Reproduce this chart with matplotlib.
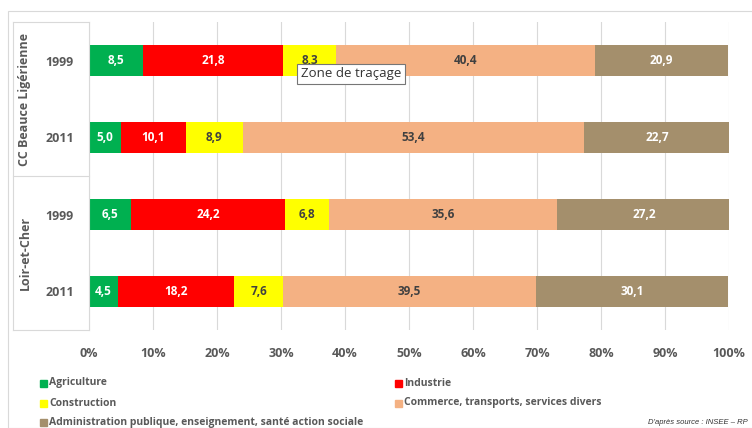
import matplotlib.pyplot as plt
from matplotlib.patches import Rectangle
from matplotlib.lines import Line2D

plt.rcParams['font.family'] = ['Open Sans', 'DejaVu Sans']

# data
rows = ["1999", "2011", "1999", "2011"]
groups = ["CC Beauce Ligérienne", "Loir-et-Cher"]
sectors = ["Agriculture", "Industrie", "Construction",
           "Commerce, transports, services divers",
           "Administration publique, enseignement, santé action sociale"]
agriculture = [8.5, 5.0, 6.5, 4.5]
industrie = [21.8, 10.1, 24.2, 18.2]
construction = [8.3, 8.9, 6.8, 7.6]
commerce = [40.4, 53.4, 35.6, 39.5]
administration = [20.9, 22.7, 27.2, 30.1]
series = [agriculture, industrie, construction, commerce, administration]

colors = ["#00B050", "#FF0000", "#FFFF00", "#F4B183", "#A48F6C"]
label_colors = ["white", "white", "#404040", "#404040", "white"]
grey = "#595959"
line_grey = "#D9D9D9"

W, H = 752, 428
fig = plt.figure(figsize=(W / 100, H / 100), dpi=100)
ax = fig.add_axes([89 / W, 1 - 330 / H, 640 / W, 308 / H])

ypos = list(range(len(rows)))
left = [0.0] * len(rows)
for vals, c, lc in zip(series, colors, label_colors):
    ax.barh(ypos, vals, left=left, height=0.39, color=c, zorder=2)
    for y, v, l in zip(ypos, vals, left):
        ax.text(l + v / 2, y, f"{v:.1f}".replace(".", ","), ha="center", va="center",
                color=lc, fontsize=8.5, fontweight="bold", zorder=3)
    left = [a + b for a, b in zip(left, vals)]

ax.set_xlim(0, 100)
ax.set_ylim(3.5, -0.5)
ax.set_xticks(range(0, 101, 10))
ax.set_xticklabels([f"{t}%" for t in range(0, 101, 10)])
ax.set_yticks(ypos)
ax.set_yticklabels(rows)
ax.tick_params(axis="x", length=0, pad=12, labelsize=9, labelcolor=grey)
ax.tick_params(axis="y", length=0, pad=11, labelsize=9, labelcolor=grey)
for lab in ax.get_xticklabels() + ax.get_yticklabels():
    lab.set_fontweight("bold")
ax.grid(axis="x", color=line_grey, lw=0.8, zorder=0)
for s in ["top", "right", "bottom"]:
    ax.spines[s].set_visible(False)
ax.spines["left"].set_color(line_grey)

# group labels and separators in the category area
for yy in [1.0, 0.5, 0.0]:
    ax.add_line(Line2D([-76 / 640, 0], [yy, yy], transform=ax.transAxes,
                       color=line_grey, lw=0.8, clip_on=False))
ax.add_line(Line2D([-76 / 640, -76 / 640], [0, 1], transform=ax.transAxes,
                   color=line_grey, lw=0.8, clip_on=False))
for i, g in enumerate(groups):
    ax.text(-64 / 640, 0.75 - 0.5 * i, g, transform=ax.transAxes, rotation=90,
            ha="center", va="center", fontsize=9, fontweight="bold", color=grey)

# outer frame
fig.patches.append(Rectangle((8 / W, 0), 1, 1 - 11 / H, transform=fig.transFigure,
                             fill=False, edgecolor=line_grey, lw=0.8))

# tooltip
fig.text(301 / W, 1 - 74 / H, "Zone de traçage", ha="left", va="center", fontsize=9.5,
         color="#333333",
         bbox=dict(boxstyle="square,pad=0.3", fc="white", ec="#767676", lw=0.8))

# legend
leg_pos = [(40, 383), (395, 383), (40, 403), (395, 403), (40, 422)]
for (px, py), name, c in zip(leg_pos, sectors, colors):
    fig.patches.append(Rectangle((px / W, 1 - (py + 3.5) / H), 7 / W, 7 / H,
                                 transform=fig.transFigure, color=c))
    fig.text((px + 9) / W, 1 - py / H, name, ha="left", va="center",
             fontsize=7.5, fontweight="bold", color=grey)

fig.text(748 / W, 1 - 423 / H, "D'après source : INSEE – RP", ha="right", va="center",
         fontsize=5.5, style="italic", color="#333333",
         family=["Liberation Sans", "DejaVu Sans"])

fig.savefig("out.png", dpi=100)
